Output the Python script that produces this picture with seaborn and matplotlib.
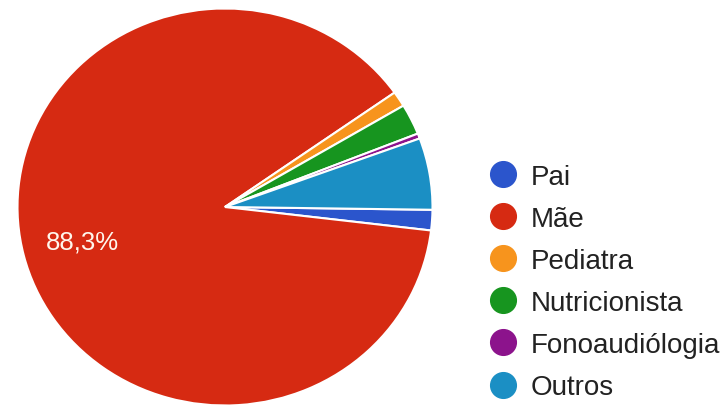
import matplotlib
matplotlib.use("Agg")
import matplotlib.pyplot as plt
from matplotlib.lines import Line2D
import seaborn as sns

# Responses: who influences the child's feeding
categories = ["Pai", "Mãe", "Pediatra", "Nutricionista", "Fonoaudiólogia", "Outros"]
counts = [4, 212, 3, 6, 1, 14]
colors = ["#2b55cc", "#d62a12", "#f7941d", "#17951f", "#8c138c", "#1b8fc4"]

sns.set_theme(style="white")
plt.rcParams["font.family"] = ["Liberation Sans", "DejaVu Sans"]

W, H, DPI = 722, 410, 100
fig = plt.figure(figsize=(W / DPI, H / DPI), dpi=DPI)
fig.patch.set_facecolor("white")
ax = fig.add_axes([0, 0, 1, 1])

palette = sns.color_palette(colors)


def pct_label(p):
    return f"{p:.1f}%".replace(".", ",") if p > 50 else ""


wedges, _, autotexts = ax.pie(
    counts,
    colors=palette,
    startangle=-0.8,
    counterclock=False,
    autopct=pct_label,
    pctdistance=0.71,
    wedgeprops=dict(edgecolor="white", linewidth=1.5),
    textprops=dict(color="#fff6ec", fontsize=18.5),
)

# pie centre / radii in pixels (slightly wider than tall)
cx, cy = 225, 208
rx, ry = 207.5, 198.5
ax.set_aspect("auto")
ax.set_xlim(-cx / rx, (W - cx) / rx)
ax.set_ylim(-(H - cy) / ry, cy / ry)
ax.axis("off")

handles = [
    Line2D([0], [0], marker="o", linestyle="", markersize=18.5,
           markerfacecolor=c, markeredgecolor=c)
    for c in palette
]
fig.legend(
    handles, categories,
    loc="center left",
    bbox_to_anchor=(489 / W, 1 - 283 / H),
    frameon=False,
    fontsize=20,
    labelcolor="#222222",
    handlelength=1.0,
    handletextpad=0.5,
    labelspacing=0.58,
    borderpad=0,
    borderaxespad=0,
)

fig.savefig("out.png", dpi=DPI, facecolor="white")
